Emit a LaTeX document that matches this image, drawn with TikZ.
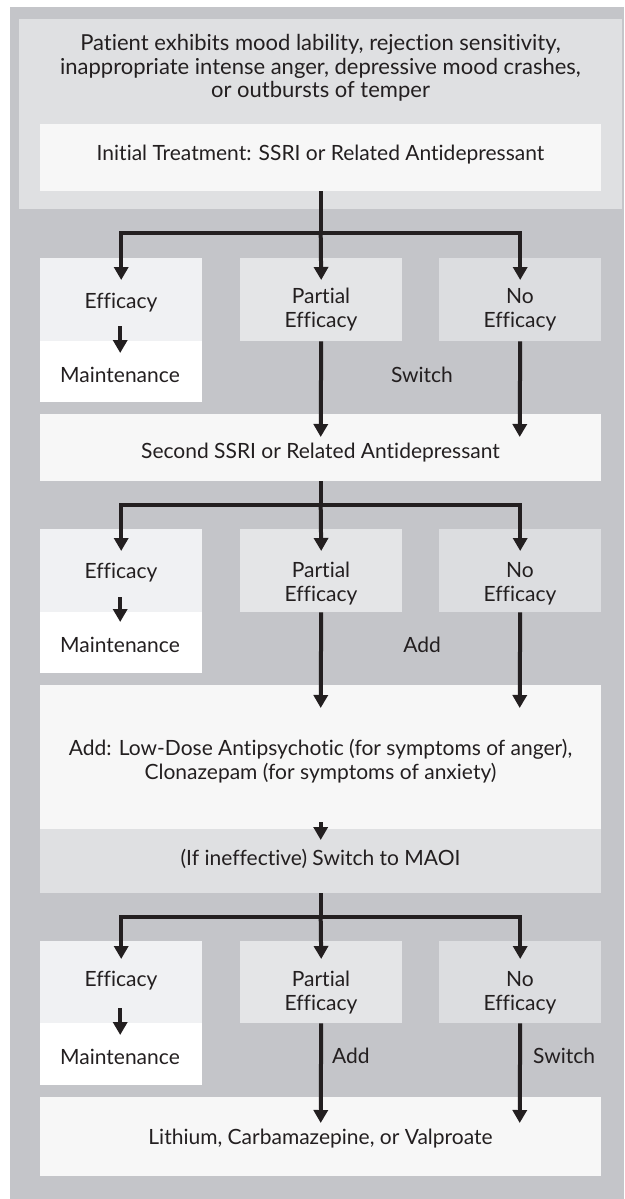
\documentclass[tikz,border=0pt]{standalone}
\usepackage{fontspec}
\setmainfont{Lato}[Ligatures=NoCommon]
\usetikzlibrary{arrows.meta,calc}
\definecolor{outergray}{HTML}{C4C5C9}
\definecolor{lightgray}{HTML}{DFE0E2}
\definecolor{paper}{HTML}{F7F7F7}
\definecolor{effcol}{HTML}{F0F1F3}
\definecolor{partcol}{HTML}{E4E5E7}
\definecolor{nocol}{HTML}{DCDDE0}
\definecolor{ink}{HTML}{231F20}
\begin{document}
\begin{tikzpicture}[x=1pt,y=-1pt,
  rbox/.style n args={3}{fill=#1,draw=none,inner sep=0pt,anchor=north west,minimum width=#2,minimum height=#3},
  txt/.style={text=ink,font=\fontsize{21}{24}\selectfont,align=center,inner sep=0pt},
  bigtxt/.style={txt,font=\fontsize{22}{23.5}\selectfont},
  flow/.style={draw=ink,line width=4pt,line join=miter,-{Triangle[width=14pt,length=13pt]}},
  trunk/.style={draw=ink,line width=4pt,line join=miter}]
\useasboundingbox (0,0) rectangle (624,1199);
\fill[white] (0,0) rectangle (624,1199);
% backgrounds
\node[rbox={outergray}{614pt}{1192pt}] (outer) at (10,7) {};
\node[rbox={lightgray}{603pt}{190pt}] (top) at (19,19) {};
\node[rbox={paper}{561pt}{67pt}] (init) at (40,124) {};
% row 1
\node[rbox={effcol}{162pt}{83pt}] (eff1) at (40,258) {};
\node[rbox={partcol}{162pt}{83pt}] (part1) at (240,258) {};
\node[rbox={nocol}{162pt}{83pt}] (no1) at (439,258) {};
\node[rbox={white}{162pt}{61pt}] (main1) at (40,341) {};
\node[rbox={paper}{561pt}{67pt}] (ssri2) at (40,414) {};
% row 2
\node[rbox={effcol}{162pt}{83pt}] (eff2) at (40,529) {};
\node[rbox={partcol}{162pt}{83pt}] (part2) at (240,529) {};
\node[rbox={nocol}{162pt}{83pt}] (no2) at (439,529) {};
\node[rbox={white}{162pt}{61pt}] (main2) at (40,612) {};
\node[rbox={paper}{561pt}{144pt}] (addbox) at (40,685) {};
\node[rbox={lightgray}{561pt}{64pt}] (maoi) at (40,829) {};
% row 3
\node[rbox={effcol}{162pt}{82pt}] (eff3) at (40,941) {};
\node[rbox={partcol}{162pt}{82pt}] (part3) at (240,941) {};
\node[rbox={nocol}{162pt}{82pt}] (no3) at (439,941) {};
\node[rbox={white}{162pt}{62pt}] (main3) at (40,1023) {};
\node[rbox={paper}{561pt}{79pt}] (final) at (40,1097) {};
% texts
\node[bigtxt] (ttop) at (320.5,68) {Patient exhibits mood lability, rejection sensitivity,\\inappropriate intense anger, depressive mood crashes,\\or outbursts of temper};
\node[txt] (tinit) at (320.5,155) {Initial Treatment: SSRI or Related Antidepressant};
\node[txt] (teff1) at (121,303) {Efficacy};
\node[txt] (tpart1) at (321,310) {Partial\\Efficacy};
\node[txt] (tno1) at (520,310) {No\\Efficacy};
\node[txt] (tmain1) at (120,375) {Maintenance};
\node[txt] (tswitch1) at (422,375) {Switch};
\node[txt] (tssri2) at (320.5,453) {Second SSRI or Related Antidepressant};
\node[txt] (teff2) at (121,573) {Efficacy};
\node[txt] (tpart2) at (321,583.5) {Partial\\Efficacy};
\node[txt] (tno2) at (520,583.5) {No\\Efficacy};
\node[txt] (tmain2) at (120,645) {Maintenance};
\node[txt] (tadd2) at (422,645) {Add};
\node[txt] (tadd) at (320.5,761) {Add: Low-Dose Antipsychotic (for symptoms of anger),\\Clonazepam (for symptoms of anxiety)};
\node[txt] (tmaoi) at (320.5,859) {(If ineffective) Switch to MAOI};
\node[txt] (teff3) at (121,981) {Efficacy};
\node[txt] (tpart3) at (321,992.5) {Partial\\Efficacy};
\node[txt] (tno3) at (520,992.5) {No\\Efficacy};
\node[txt] (tmain3) at (120,1057) {Maintenance};
\node[txt,anchor=west] (tadd3) at (332,1056) {Add};
\node[txt,anchor=west] (tswitch3) at (533,1056) {Switch};
\node[txt] (tfinal) at (320.5,1139) {Lithium, Carbamazepine, or Valproate};
% connectors row 1
\coordinate (j1) at ($(init.south)+(0,42)$);
\draw[trunk] (init.south) -- (j1);
\draw[flow] (j1) -| ($(eff1.north)+(0,22)$);
\draw[flow] (j1) -- ($(part1.north)+(0,22)$);
\draw[flow] (j1) -| ($(no1.north)+(0,22)$);
\draw[flow] ($(eff1.south)+(-1,-15)$) -- ($(main1.north)+(-1,12)$);
\draw[flow] (part1.south) -- ($(ssri2.north)+(0,23)$);
\draw[flow] (no1.south) -- ($(ssri2.north)+(199,23)$);
% row 2
\coordinate (j2) at ($(ssri2.south)+(0,24)$);
\draw[trunk] (ssri2.south) -- (j2);
\draw[flow] (j2) -| ($(eff2.north)+(0,22)$);
\draw[flow] (j2) -- ($(part2.north)+(0,22)$);
\draw[flow] (j2) -| ($(no2.north)+(0,22)$);
\draw[flow] ($(eff2.south)+(-1,-15)$) -- ($(main2.north)+(-1,10)$);
\draw[flow] (part2.south) -- ($(addbox.north)+(0,23)$);
\draw[flow] (no2.south) -- ($(addbox.north)+(199,23)$);
% add -> maoi
\draw[flow] ($(addbox.south)+(0,-7)$) -- ($(maoi.north)+(0,11)$);
% row 3
\coordinate (j3) at ($(maoi.south)+(0,24)$);
\draw[trunk] (maoi.south) -- (j3);
\draw[flow] (j3) -| ($(eff3.north)+(0,18)$);
\draw[flow] (j3) -- ($(part3.north)+(0,18)$);
\draw[flow] (j3) -| ($(no3.north)+(0,18)$);
\draw[flow] ($(eff3.south)+(-1,-15)$) -- ($(main3.north)+(-1,12)$);
\draw[flow] (part3.south) -- ($(final.north)+(0,26)$);
\draw[flow] (no3.south) -- ($(final.north)+(199,26)$);
\end{tikzpicture}
\end{document}
